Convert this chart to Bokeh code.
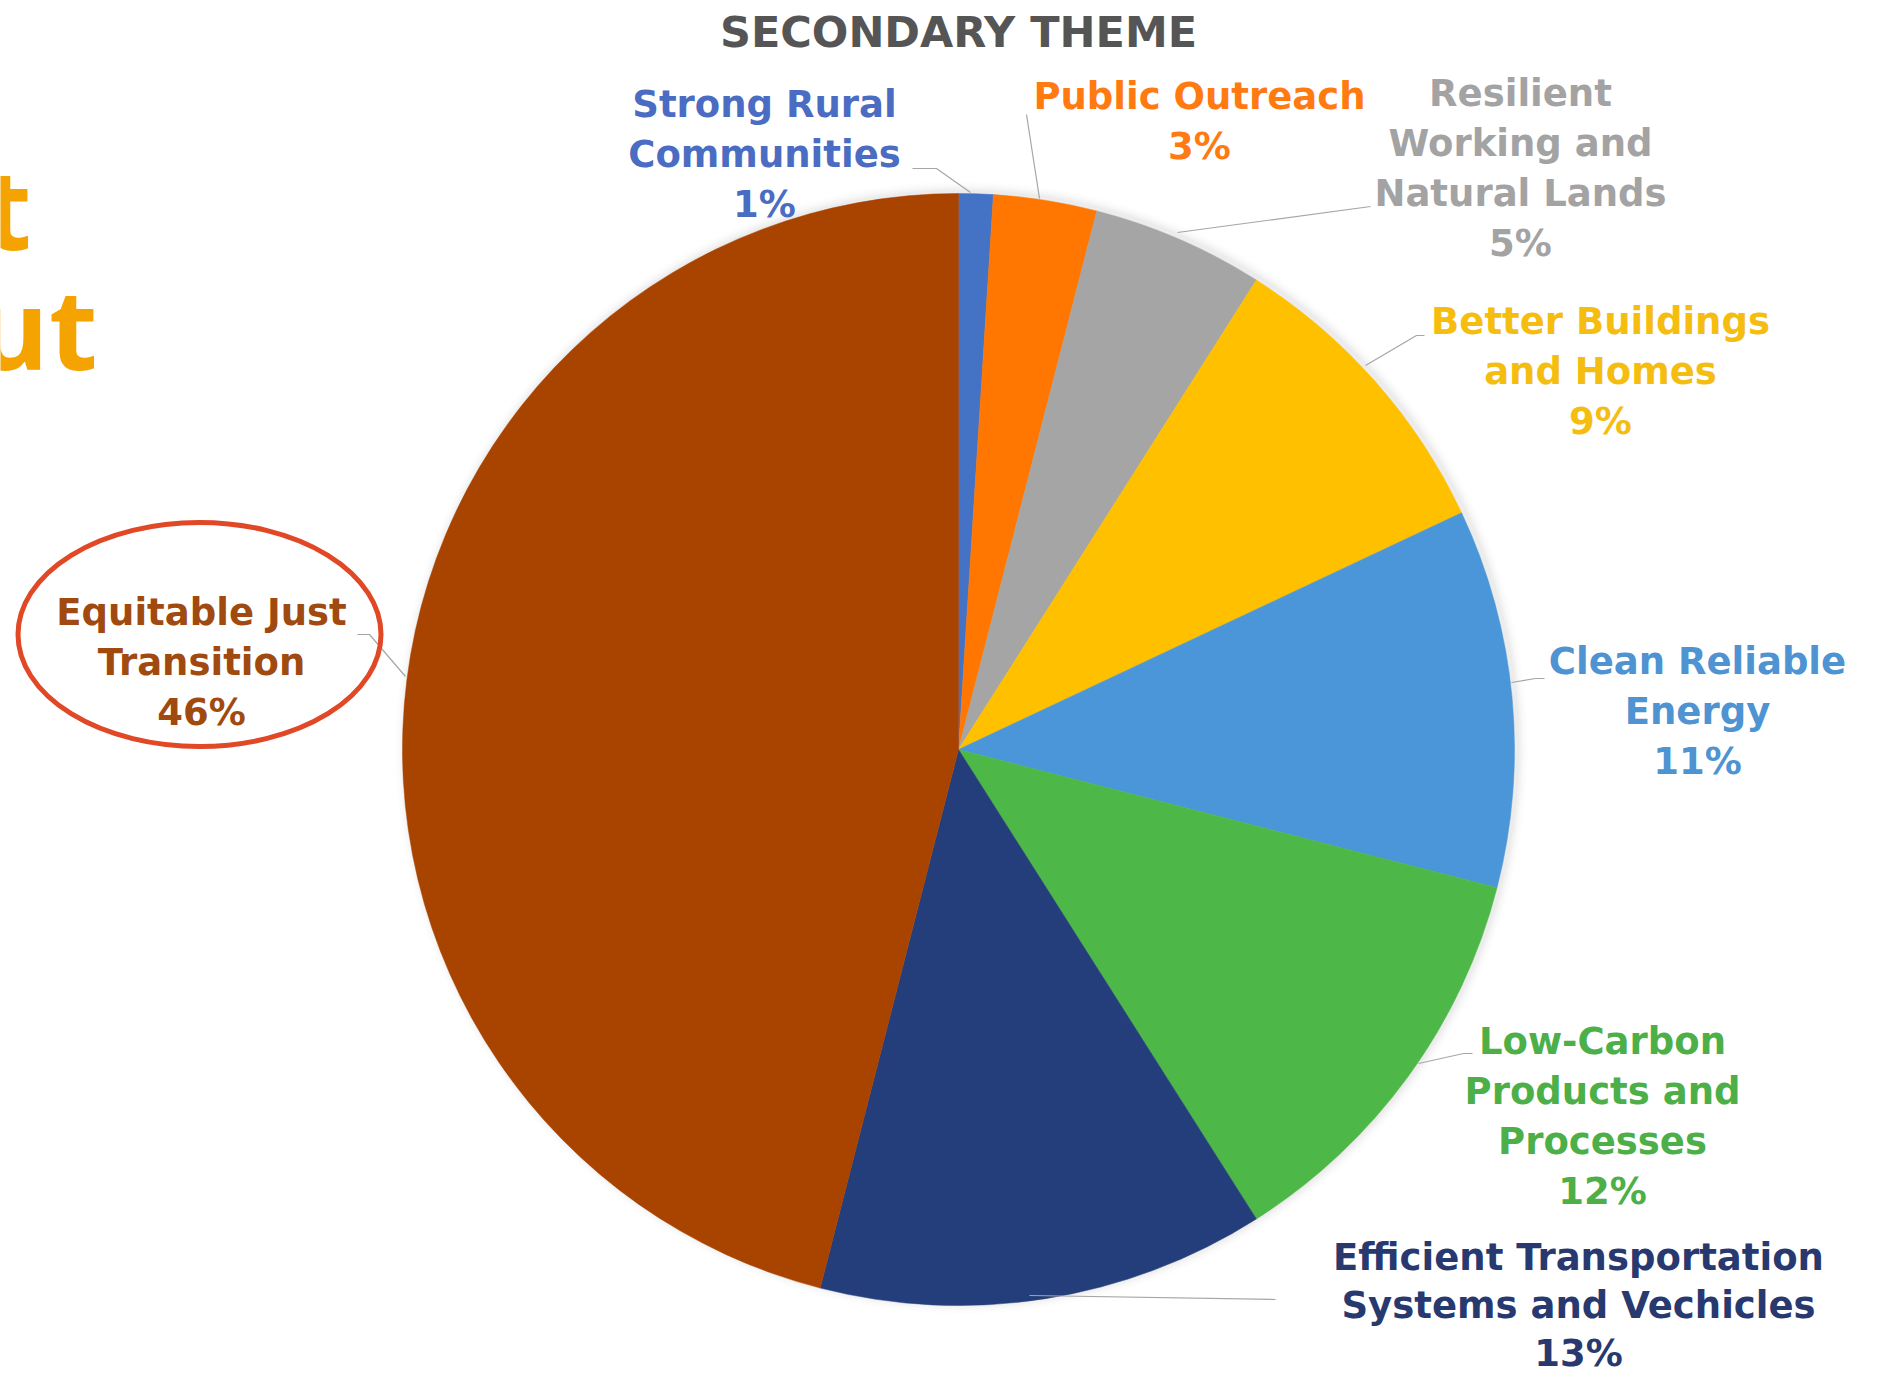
import math
from bokeh.plotting import figure
from bokeh.models import Range1d, ColumnDataSource
from bokeh.core.properties import value
from bokeh.embed import file_html
from bokeh.resources import INLINE

# ---------------- data ----------------
title = "SECONDARY THEME"
theme_lines = [
    ["Strong Rural", "Communities"],
    ["Public Outreach"],
    ["Resilient", "Working and", "Natural Lands"],
    ["Better Buildings", "and Homes"],
    ["Clean Reliable", "Energy"],
    ["Low-Carbon", "Products and", "Processes"],
    ["Efficient Transportation", "Systems and Vechicles"],
    ["Equitable Just", "Transition"],
]
shares = [1, 3, 5, 9, 11, 12, 13, 46]
slice_colors = ["#4472C4", "#FF7700", "#A5A5A5", "#FFC000", "#4A96D8", "#4DB848", "#243E7B", "#A84300"]
text_colors = ["#4A6CC2", "#FF7A10", "#A3A3A3", "#F5BD10", "#4E93D2", "#4CAF47", "#27396E", "#A04A10"]
side_text = ["t", "ut"]

# ---------------- layout ----------------
W, H = 1877, 1377
def Y(y):
    return H - y

cx, cy, R = 958, 749, 556
FONT = value("DejaVu Sans")

p = figure(width=W, height=H, x_range=Range1d(0, W), y_range=Range1d(0, H),
           output_backend="svg", toolbar_location=None, min_border=0)
p.axis.visible = False
p.grid.visible = False
p.outline_line_color = None
p.background_fill_color = "white"
p.border_fill_color = "white"

# soft shadow
for i, a in enumerate([0.05, 0.04, 0.03, 0.02, 0.015]):
    p.circle(x=[cx + 3], y=[Y(cy) + 2], radius=R + 2 + 2 * i, fill_color="#808080",
             fill_alpha=a, line_color=None)

# wedges
total = float(sum(shares))
starts, ends = [], []
acc = 0.0
for v in shares:
    starts.append(math.pi / 2 - 2 * math.pi * acc / total)
    acc += v
    ends.append(math.pi / 2 - 2 * math.pi * acc / total)
src = ColumnDataSource(dict(x=[cx] * len(shares), y=[Y(cy)] * len(shares),
                            start=starts, end=ends, color=slice_colors))
p.wedge(x="x", y="y", radius=R, start_angle="start", end_angle="end",
        direction="clock", fill_color="color", line_color="color", line_width=0.5, source=src)

# title
p.text(x=[958], y=[Y(31)], text=[title], text_font=FONT, text_font_style="bold",
       text_font_size="43px", text_color="#555555", text_align="center", text_baseline="middle")

# label positions (center x, first line y) in page pixels
label_pos = [(764, 104), (1199, 96), (1520, 93), (1600, 321), (1697, 661),
             (1602, 1041), (1578, 1257), (201, 612)]
LS = 50
for lines, v, col, (lx, ly) in zip(theme_lines, shares, text_colors, label_pos):
    allines = lines + [f"{v}%"]
    ls = 48 if len(lines) == 2 and ly > 1200 else LS
    ys = [Y(ly + ls * k) for k in range(len(allines))]
    p.text(x=[lx] * len(allines), y=ys, text=allines, text_font=FONT, text_font_style="bold",
           text_font_size="37px", text_color=col, text_align="center", text_baseline="middle")

# leader lines
leaders = [
    [(912, 168), (936, 168), (970, 192)],
    [(1026, 114), (1039, 198)],
    [(1370, 206), (1177, 232)],
    [(1424, 335), (1416, 335), (1365, 365)],
    [(1544, 678), (1535, 678), (1511, 682)],
    [(1472, 1053), (1463, 1053), (1418, 1063)],
    [(1275, 1299), (1029, 1295)],
    [(357, 634), (369, 634), (405, 676)],
]
p.multi_line(xs=[[pt[0] for pt in L] for L in leaders], ys=[[Y(pt[1]) for pt in L] for L in leaders],
             line_color="#A6A6A6", line_width=1.2)

# red highlight ellipse
p.ellipse(x=[199], y=[Y(634)], width=363, height=224, fill_color=None,
          line_color="#E04826", line_width=5)

# cropped orange slide text on the left
p.text(x=[31, 97], y=[Y(206), Y(326)], text=side_text, text_font=value("Open Sans"),
       text_font_style="bold", text_font_size="112px", text_color="#F5A300",
       text_align="right", text_baseline="middle")

open("out.html", "w").write(file_html(p, INLINE))
